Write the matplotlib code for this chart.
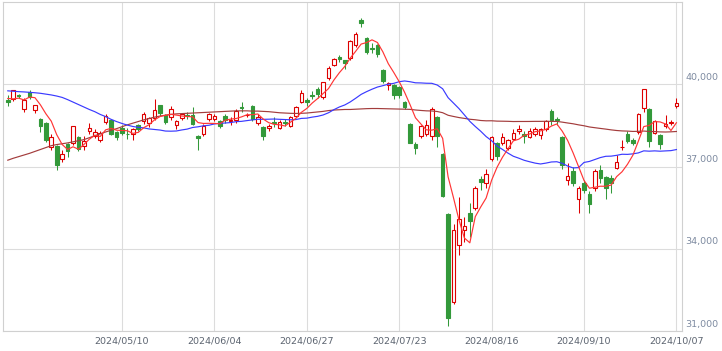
import matplotlib
matplotlib.use("Agg")
import matplotlib.pyplot as plt
from matplotlib.patches import Rectangle

# trading days, 2024
dates = """
04/08 04/09 04/10 04/11 04/12 04/15 04/16 04/17 04/18 04/19 04/22 04/23 04/24 04/25 04/26 04/30
05/01 05/02 05/07 05/08 05/09 05/10 05/13 05/14 05/15 05/16 05/17 05/20 05/21 05/22 05/23 05/24
05/27 05/28 05/29 05/30 05/31
06/03 06/04 06/05 06/06 06/07 06/10 06/11 06/12 06/13 06/14 06/17 06/18 06/19 06/20 06/21 06/24
06/25 06/26 06/27 06/28
07/01 07/02 07/03 07/04 07/05 07/08 07/09 07/10 07/11 07/12 07/16 07/17 07/18 07/19 07/22 07/23
07/24 07/25 07/26 07/29 07/30 07/31
08/01 08/02 08/05 08/06 08/07 08/08 08/09 08/13 08/14 08/15 08/16 08/19 08/20 08/21 08/22 08/23
08/26 08/27 08/28 08/29 08/30
09/02 09/03 09/04 09/05 09/06 09/09 09/10 09/11 09/12 09/13 09/17 09/18 09/19 09/20 09/24 09/25
09/26 09/27 09/30
10/01 10/02 10/03 10/04 10/07
""".split()

open_ = [
    39420, 39480, 39620, 39080, 39700, 39050, 38750, 38590, 37720, 37740,
    37260, 37810, 37860, 38060, 37740, 38300, 38100, 37980, 38620, 38690,
    38260, 38390, 38200, 38200, 38500, 38650, 38600, 38780, 39230, 38870,
    38790, 38500, 38770, 38870, 38870, 38100, 38170, 38720, 38720, 38650,
    38830, 38650, 38690, 39170, 38870, 39200, 38570, 38440, 38410, 38630,
    38420, 38630, 38480, 38830, 39360, 39440, 39600, 39840, 39540, 40210,
    40690, 41000, 40880, 40940, 41420, 42330, 41670, 41340, 41420, 40510,
    39970, 39960, 39900, 39360, 38540, 37810, 38120, 38200, 38120, 38790,
    37470, 35260, 32070, 34130, 34680, 35290, 35500, 36550, 36380, 37290,
    37870, 37840, 37660, 38020, 38290, 38180, 38080, 38200, 38140, 38384,
    39030, 38750, 38060, 36525, 36840, 35800, 36380, 36015, 36200, 36890,
    36600, 36590, 36960, 37700, 38180, 37960, 38250, 39125, 39114, 38240,
    38140, 38470, 38600, 39223]

high = [
    39600, 39800, 39650, 39500, 39790, 39260, 38780, 38620, 38200, 37800,
    37600, 37850, 38480, 38100, 38100, 38600, 38350, 38300, 38900, 38750,
    38300, 38500, 38400, 38400, 38550, 39000, 38800, 39450, 39250, 38900,
    39200, 38700, 38950, 38990, 39170, 38150, 38550, 38950, 38900, 38700,
    38900, 38800, 39100, 39350, 38950, 39250, 38900, 38470, 38550, 38800,
    38700, 38750, 38850, 39200, 39780, 39500, 39750, 39900, 40100, 40650,
    40950, 41080, 40900, 41600, 41910, 42430, 41730, 41500, 41480, 40550,
    40100, 40000, 39950, 39400, 38600, 37900, 38500, 38690, 39170, 38850,
    37500, 35300, 34900, 35870, 35160, 35680, 36300, 36650, 36900, 38100,
    37900, 38230, 38000, 38380, 38500, 38300, 38400, 38450, 38400, 38700,
    39100, 38800, 38100, 37110, 37000, 36300, 36500, 36100, 36900, 37050,
    36650, 36700, 37410, 37980, 38300, 38050, 38950, 39830, 39150, 38700,
    38200, 38870, 38700, 39500]

low = [
    39200, 39400, 39500, 39000, 39480, 38950, 38250, 37900, 37600, 36890,
    37150, 37350, 37800, 37550, 37600, 38200, 38050, 37900, 38550, 38150,
    37950, 38150, 38000, 37950, 38300, 38550, 38450, 38700, 38850, 38550,
    38700, 38350, 38700, 38750, 38500, 37600, 38100, 38650, 38650, 38400,
    38600, 38500, 38600, 39000, 38800, 38650, 38500, 37950, 38300, 38450,
    38350, 38480, 38450, 38800, 39300, 39200, 39450, 39500, 39450, 40150,
    40650, 40800, 40550, 40900, 41350, 42090, 41100, 41150, 41000, 40050,
    39800, 39450, 39500, 39100, 37850, 37450, 38050, 38100, 37960, 37720,
    35880, 31180, 32000, 33770, 34250, 34440, 35400, 36140, 36200, 37200,
    37250, 37800, 37600, 37950, 38200, 37840, 38050, 38100, 38000, 38300,
    38500, 38500, 36900, 36320, 36300, 35290, 36050, 35290, 36100, 36400,
    35830, 36050, 36900, 37620, 37850, 37800, 38200, 39000, 37700, 38200,
    37650, 38400, 38500, 39150]

close = [
    39347, 39773, 39581, 39442, 39523, 39232, 38471, 37962, 38079, 37068,
    37438, 37552, 38460, 37628, 37934, 38405, 38274, 38236, 38835, 38202,
    38073, 38229, 38179, 38356, 38385, 38920, 38787, 39069, 38946, 38617,
    39103, 38646, 38900, 38855, 38556, 38054, 38487, 38923, 38837, 38490,
    38703, 38683, 39038, 39134, 38876, 38720, 38814, 38102, 38482, 38570,
    38633, 38596, 38804, 39173, 39667, 39341, 39583, 39631, 40074, 40580,
    40913, 40912, 40780, 41580, 41831, 42224, 41190, 41275, 41097, 40126,
    40063, 39599, 39594, 39154, 37869, 37667, 38468, 38525, 39101, 38126,
    35909, 31458, 34675, 35089, 34831, 35025, 36232, 36442, 36726, 38062,
    37388, 38062, 37951, 38211, 38364, 38110, 38288, 38371, 38362, 38647,
    38700, 38686, 37047, 36657, 36391, 36215, 36159, 35619, 36833, 36581,
    36203, 36380, 37155, 37723, 37940, 37870, 38925, 39829, 37919, 38651,
    37808, 38552, 38635, 39332]

# moving averages as drawn (5 / 25 / 75 day)
ma5 = [
    39480, 39467, 39493, 39427, 39533, 39510, 39250, 38926, 38653, 38162,
    37804, 37620, 37719, 37629, 37802, 37996, 38140, 38095, 38337, 38390,
    38324, 38315, 38304, 38208, 38244, 38414, 38525, 38703, 38821, 38868,
    38904, 38876, 38842, 38824, 38812, 38602, 38570, 38575, 38571, 38558,
    38688, 38727, 38750, 38810, 38887, 38890, 38916, 38729, 38599, 38538,
    38520, 38477, 38617, 38755, 38975, 39116, 39314, 39479, 39659, 39842,
    40156, 40422, 40652, 40953, 41203, 41465, 41521, 41620, 41523, 41182,
    40750, 40432, 40096, 39707, 39256, 38777, 38550, 38337, 38326, 38377,
    38026, 36624, 35854, 35051, 34392, 34216, 35170, 35524, 35851, 36497,
    36970, 37336, 37638, 37935, 37995, 38140, 38185, 38269, 38299, 38356,
    38474, 38553, 38288, 37947, 37496, 36999, 36494, 36208, 36243, 36281,
    36279, 36323, 36630, 36808, 37080, 37414, 37923, 38457, 38497, 38639,
    38626, 38552, 38313, 38596]

ma25 = [
    39760, 39745, 39730, 39720, 39705, 39690, 39670, 39640, 39610, 39570,
    39520, 39440, 39350, 39260, 39170, 39080, 39000, 38900, 38820, 38720,
    38640, 38570, 38510, 38460, 38427, 38409, 38370, 38350, 38330, 38293,
    38288, 38295, 38333, 38364, 38423, 38448, 38485, 38504, 38552, 38575,
    38586, 38603, 38635, 38647, 38674, 38700, 38723, 38720, 38725, 38732,
    38721, 38713, 38703, 38712, 38754, 38763, 38801, 38830, 38879, 38960,
    39074, 39171, 39245, 39355, 39489, 39630, 39730, 39819, 39898, 39948,
    40002, 40033, 40093, 40120, 40092, 40053, 40048, 40037, 40034, 39972,
    39835, 39510, 39312, 39112, 38882, 38647, 38460, 38286, 38092, 37941,
    37748, 37623, 37490, 37374, 37304, 37226, 37173, 37124, 37092, 37124,
    37165, 37174, 37115, 37017, 36947, 36960, 37148, 37185, 37255, 37325,
    37372, 37378, 37407, 37447, 37442, 37461, 37496, 37571, 37559, 37570,
    37558, 37569, 37579, 37618]

ma75 = [
    37230, 37300, 37360, 37420, 37480, 37550, 37620, 37690, 37760, 37800,
    37830, 37860, 37900, 37940, 37980, 38050, 38120, 38190, 38260, 38320,
    38380, 38450, 38520, 38580, 38640, 38700, 38750, 38800, 38840, 38870,
    38900, 38920, 38930, 38940, 38950, 38960, 38970, 38980, 38990, 39000,
    39010, 39020, 39030, 39030, 39030, 39020, 39020, 39010, 39000, 38980,
    38960, 38950, 38940, 38935, 38940, 38950, 38970, 38990, 39010, 39040,
    39060, 39070, 39080, 39080, 39090, 39100, 39110, 39115, 39115, 39110,
    39105, 39100, 39095, 39090, 39084, 39061, 39044, 39030, 39025, 39006,
    38962, 38869, 38825, 38785, 38755, 38723, 38705, 38678, 38666, 38668,
    38655, 38652, 38648, 38640, 38642, 38642, 38643, 38646, 38646, 38649,
    38646, 38645, 38618, 38587, 38558, 38519, 38486, 38442, 38415, 38389,
    38364, 38336, 38313, 38298, 38291, 38279, 38283, 38293, 38277, 38274,
    38262, 38258, 38265, 38277]

tick_dates = ["05/10", "06/04", "06/27", "07/23", "08/16", "09/10", "10/07"]
y_ticks = [31000, 34000, 37000, 40000]

UP = "#dd0000"
DOWN = "#33993a"
GRID = "#dcdcdc"

fig = plt.figure(figsize=(7.22, 3.51), dpi=100)
ax = fig.add_axes([3 / 722, 20 / 351, 679 / 722, 329 / 351])

w = 0.66
for i in range(len(dates)):
    o, h, l, c = open_[i], high[i], low[i], close[i]
    up = c > o
    col = UP if up else DOWN
    ax.vlines(i, l, h, color=col, lw=0.75, zorder=2)
    body = max(abs(c - o), 20)
    ax.add_patch(Rectangle((i - w / 2, min(o, c)), w, body,
                           facecolor="white" if up else col,
                           edgecolor=col, lw=0.8, zorder=3))

xs = range(len(dates))
ax.plot(xs, ma75, color="#a33c3c", lw=0.85, zorder=4)
ax.plot(xs, ma25, color="#3a3aff", lw=0.85, zorder=4)
ax.plot(xs, ma5, color="#ff3535", lw=0.85, zorder=4)

ax.set_xlim(-0.88, 124.03)
ax.set_ylim(31000, 43000)

tick_pos = [dates.index(d) for d in tick_dates]
ax.set_xticks(tick_pos)
ax.set_xticklabels(["2024/" + d for d in tick_dates], fontsize=6.8, color="#5c6470")
ax.set_yticks(y_ticks)
ax.set_yticklabels([])
ax.tick_params(length=0, pad=4)
ax.grid(True, color=GRID, lw=0.8, zorder=0)
ax.set_axisbelow(True)
for s in ax.spines.values():
    s.set_color("#d0d0d0")
    s.set_linewidth(0.8)

for v in y_ticks:
    ax.annotate(f"{v:,}", xy=(1, v), xycoords=("axes fraction", "data"),
                xytext=(3, 7), textcoords="offset pixels",
                ha="left", va="center", fontsize=6.8, color="#7d8aa0")

fig.savefig("out.png", dpi=100)
